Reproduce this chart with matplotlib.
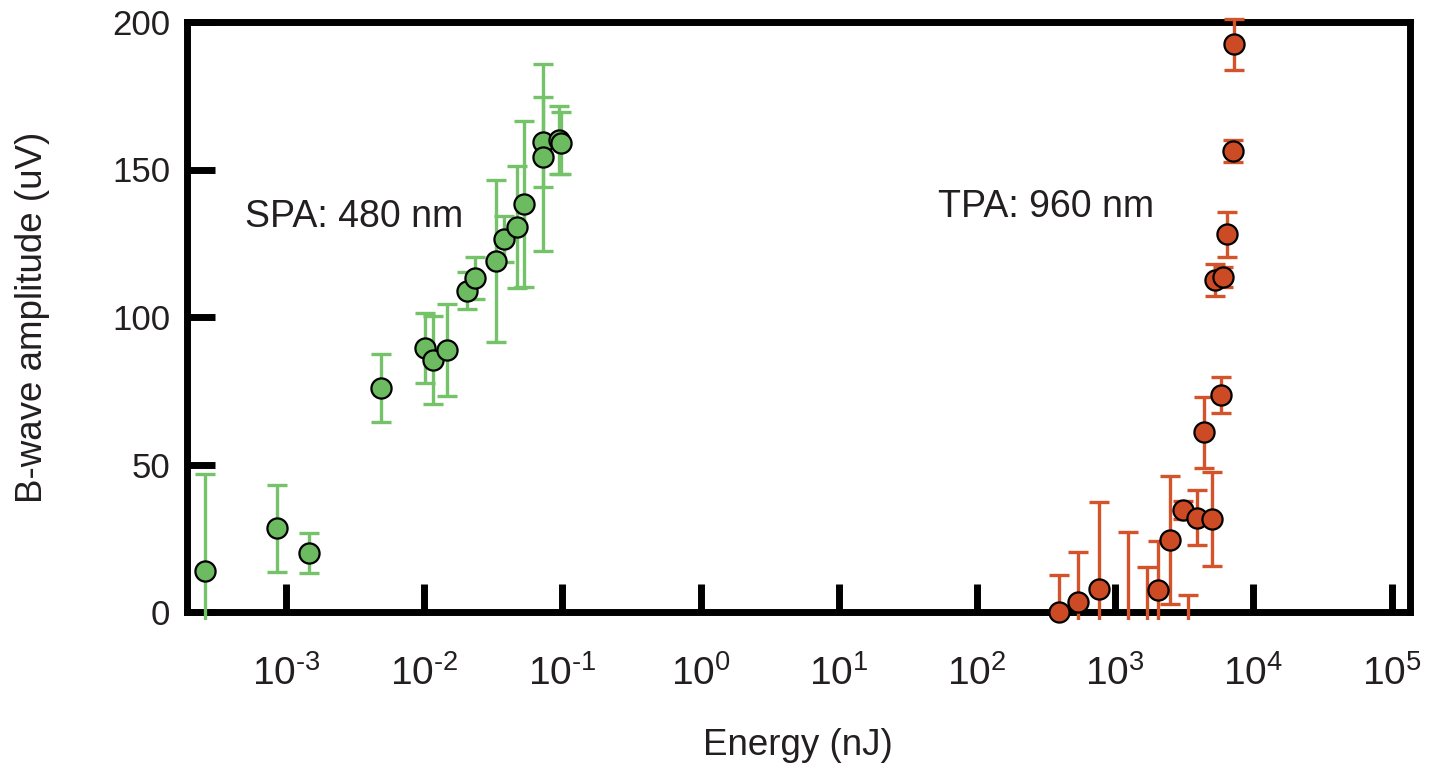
import numpy as np
import matplotlib
matplotlib.use("Agg")
import matplotlib.pyplot as plt
from matplotlib.patches import Rectangle

plt.rcParams['font.family'] = ['Liberation Sans', 'DejaVu Sans']
plt.rcParams['mathtext.fontset'] = 'custom'
plt.rcParams['mathtext.rm'] = 'Liberation Sans'
plt.rcParams['mathtext.it'] = 'Liberation Sans:italic'
plt.rcParams['mathtext.bf'] = 'Liberation Sans:bold'

# ---- data ----
spa_energy = [2.59e-4, 8.6e-4, 1.47e-3, 4.86e-3, 0.01014, 0.01164, 0.01456, 0.02032,
              0.02333, 0.0329, 0.03776, 0.0472, 0.0530, 0.0728, 0.0728, 0.0951, 0.0973]
spa_amp = [13.9, 28.4, 20.0, 75.9, 89.4, 85.4, 88.8, 108.9,
           113.3, 119.1, 126.4, 130.4, 138.3, 159.4, 154.1, 160.0, 158.9]
spa_err = [33.0, 14.8, 6.9, 11.5, 11.9, 14.8, 15.5, 6.3,
           7.1, 27.5, 7.9, 20.7, 28.3, 15.3, 31.8, 11.6, 10.5]

tpa_energy = [394, 536, 764, 1245, 1708, 2050, 2493, 3080, 3380,
              3890, 4394, 4980, 5275, 5800, 6055, 6410, 7160, 7240]
tpa_amp = [0.0, 3.5, 7.8, -5.0, -3.0, 7.5, 24.4, 34.6, -4.0,
           31.9, 60.9, 31.5, 112.5, 73.6, 113.5, 128.0, 156.3, 192.4]
tpa_err = [12.4, 17.0, 29.6, 32.0, 18.4, 16.5, 21.7, 3.0, 9.7,
           9.3, 12.1, 15.8, 5.5, 6.1, 3.4, 7.5, 3.7, 8.6]

x_tick_exponents = [-3, -2, -1, 0, 1, 2, 3, 4, 5]
y_ticks = [0, 50, 100, 150, 200]

spa_color = '#6dbb60'
spa_bar_color = '#74c369'
tpa_color = '#cc4b24'
tpa_bar_color = '#d4532b'
text_color = '#231f20'

W, H = 1437, 764
fig = plt.figure(figsize=(W / 100, H / 100), dpi=100)
ax = fig.add_axes([187 / W, 1 - 612 / H, (1410 - 187) / W, (612 - 22) / H])
ax.set_xscale('log')
ax.set_xlim(10 ** -3.716, 10 ** 5.133)
ax.set_ylim(0, 200)

clip_rect = Rectangle((1e-6, -2.7), 1e8, 230, transform=ax.transData,
                      facecolor='none', edgecolor='none')


def draw_series(xs, ys, es, bar_color, face_color):
    xs = np.asarray(xs, float)
    ys = np.asarray(ys, float)
    es = np.asarray(es, float)
    _, caps, bars = ax.errorbar(xs, ys, yerr=es, fmt='none', ecolor=bar_color,
                                elinewidth=2.4, capsize=7, capthick=2.4, zorder=3)
    for artist in list(caps) + list(bars):
        artist.set_clip_on(True)
        artist.set_clip_path(clip_rect)
    visible = ys >= 0
    ax.plot(xs[visible], ys[visible], 'o', markersize=14.5, markerfacecolor=face_color,
            markeredgecolor='black', markeredgewidth=1.6, linestyle='none',
            zorder=4, clip_on=False)


draw_series(spa_energy, spa_amp, spa_err, spa_bar_color, spa_color)
draw_series(tpa_energy, tpa_amp, tpa_err, tpa_bar_color, tpa_color)

for side in ['left', 'right', 'top', 'bottom']:
    ax.spines[side].set_linewidth(5)
    ax.spines[side].set_color('black')
    ax.spines[side].set_zorder(2)

ax.set_xticks([10.0 ** e for e in x_tick_exponents])
ax.set_xticklabels([r'$10^{\text{%d}}$' % e for e in x_tick_exponents])
ax.minorticks_off()
ax.set_yticks(y_ticks)
ax.set_yticklabels([str(v) for v in y_ticks])
ax.tick_params(axis='both', direction='in', length=20, width=5, color='black',
               labelsize=25, labelcolor=text_color)
ax.tick_params(axis='x', pad=31, labelsize=28)
ax.tick_params(axis='y', pad=12)
ax.tick_params(top=False, right=False)

ax.text(5.04e-4, 134, 'SPA: 480 nm', fontsize=27, color=text_color,
        ha='left', va='center')
ax.text(52.2, 137.4, 'TPA: 960 nm', fontsize=27, color=text_color,
        ha='left', va='center')

fig.text(798 / W, 1 - 755 / H, 'Energy (nJ)', fontsize=26.5, color=text_color,
         ha='center', va='baseline')
fig.text(33 / W, 1 - 317 / H, 'B-wave amplitude (uV)', fontsize=26.5, color=text_color,
         ha='center', va='center', rotation=90)

fig.savefig('out.png', dpi=100)
